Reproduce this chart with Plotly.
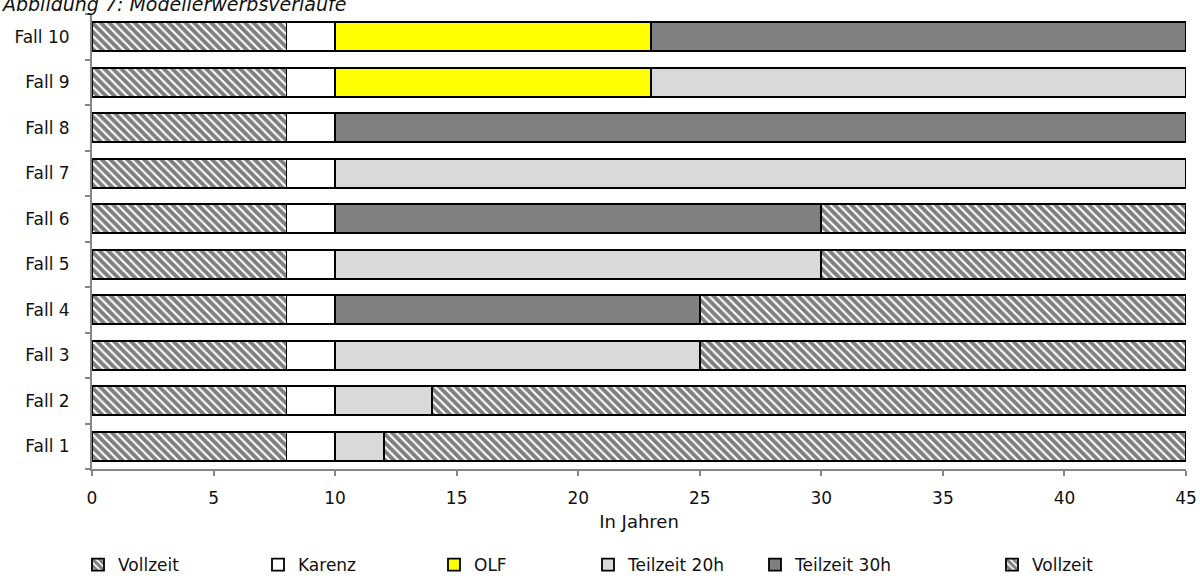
import plotly.graph_objects as go

categories = ["Fall 1", "Fall 2", "Fall 3", "Fall 4", "Fall 5",
              "Fall 6", "Fall 7", "Fall 8", "Fall 9", "Fall 10"]

vollzeit_start = [8, 8, 8, 8, 8, 8, 8, 8, 8, 8]
karenz = [2, 2, 2, 2, 2, 2, 2, 2, 2, 2]
olf = [None, None, None, None, None, None, None, None, 13, 13]
teilzeit20 = [2, 4, 15, None, 20, None, 35, None, 22, None]
teilzeit30 = [None, None, None, 15, None, 20, None, 35, None, 22]
vollzeit_end = [33, 31, 20, 20, 15, 15, None, None, None, None]

x_ticks = [0, 5, 10, 15, 20, 25, 30, 35, 40, 45]

FONT = "DejaVu Sans"
TXT = "#111111"
AX = "#868686"

hatch = dict(shape="\\", size=6, solidity=0.65, fgcolor="black", bgcolor="white")
series = [
    ("Vollzeit", vollzeit_start, "white", hatch),
    ("Karenz", karenz, "white", None),
    ("OLF", olf, "#ffff00", None),
    ("Teilzeit 20h", teilzeit20, "#d9d9d9", None),
    ("Teilzeit 30h", teilzeit30, "#808080", None),
    ("Vollzeit", vollzeit_end, "white", hatch),
]

legend_px = [78, 258, 434, 588, 755, 992]

fig = go.Figure()
for i, (name, vals, col, pat) in enumerate(series):
    lg = "legend" if i == 0 else f"legend{i+1}"
    marker = dict(color=col, line=dict(color="black", width=1.8))
    if pat:
        marker["pattern"] = pat
    fig.add_trace(go.Bar(
        y=categories, x=vals, name=name, orientation="h",
        marker=marker, legend=lg, hoverinfo="x+name",
    ))

layout_legends = {}
for i, px in enumerate(legend_px):
    key = "legend" if i == 0 else f"legend{i+1}"
    layout_legends[key] = dict(
        xref="container", yref="container",
        x=px / 1200, xanchor="left",
        y=1 - 565 / 576, yanchor="middle", orientation="h",
        font=dict(family=FONT, size=17, color=TXT),
        bgcolor="rgba(0,0,0,0)", itemwidth=30,
    )

fig.update_layout(
    barmode="stack",
    bargap=0.36,
    width=1200, height=576,
    margin=dict(l=92, r=14, t=14, b=107, autoexpand=False),
    paper_bgcolor="white", plot_bgcolor="white",
    font=dict(family=FONT, size=17, color=TXT),
    showlegend=True,
    **layout_legends,
)

fig.update_xaxes(
    range=[0, 45], tickvals=x_ticks, ticktext=[str(v) for v in x_ticks],
    showgrid=False, zeroline=False, automargin=False,
    showline=True, linecolor=AX, linewidth=2,
    ticks="outside", ticklen=5, tickcolor=AX, tickwidth=2,
    tickfont=dict(family=FONT, size=17, color=TXT),
    ticklabelstandoff=8,
    title=dict(text="In Jahren", font=dict(family=FONT, size=18, color=TXT), standoff=8),
)
fig.update_yaxes(
    categoryorder="array", categoryarray=categories,
    showgrid=False, zeroline=False, automargin=False,
    showline=True, linecolor=AX, linewidth=2,
    ticks="outside", ticklen=5, tickcolor=AX, tickwidth=2,
    tickson="boundaries",
    tickfont=dict(family=FONT, size=17, color=TXT),
    ticklabelstandoff=17,
)

fig.add_annotation(
    text="<i>Abbildung 7: Modellerwerbsverläufe</i>",
    xref="paper", yref="paper", x=0, y=1, xshift=-93, yshift=-3,
    xanchor="left", yanchor="bottom", showarrow=False,
    font=dict(family=FONT, size=19, color=TXT),
)

fig.write_html("out.html", config={"displayModeBar": False},
               post_script="document.body.style.margin='0px';")
